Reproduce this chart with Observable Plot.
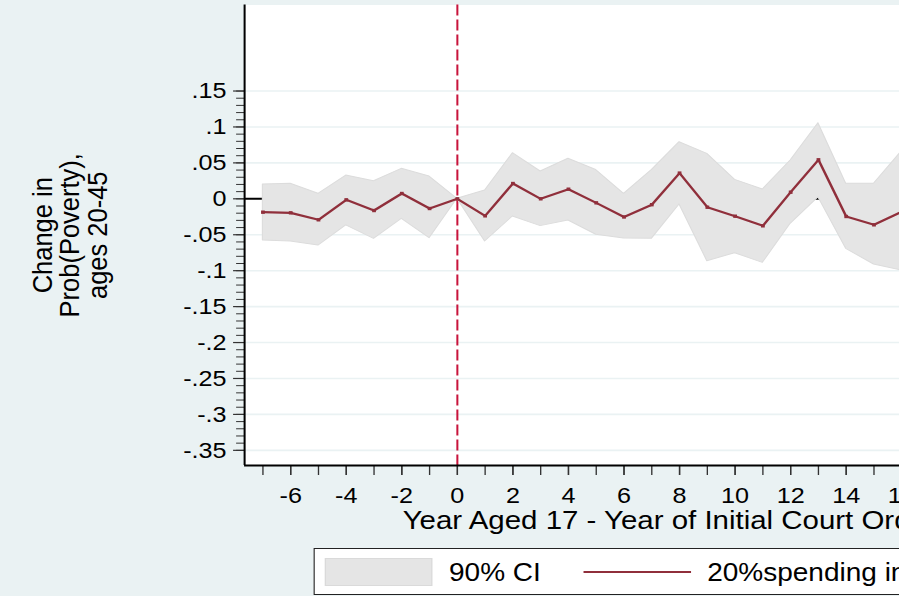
<!DOCTYPE html>
<html><head><meta charset="utf-8">
<script src="https://cdn.jsdelivr.net/npm/d3@7"></script>
<script src="https://cdn.jsdelivr.net/npm/@observablehq/plot@0.6"></script>
<style>
html,body{margin:0;padding:0;overflow:hidden;background:#eaf2f3;width:899px;height:596px;}
#wrap{position:absolute;left:0;top:0;width:977px;height:596px;transform:scaleX(1.12);transform-origin:0 0;font-family:"Liberation Sans",Arial,sans-serif;background:#eaf2f3;}
#legend{position:absolute;left:280.4px;top:548px;width:634px;height:47px;box-sizing:border-box;border:1.3px solid #222;background:#fff;}
#legend .sw{position:absolute;left:9px;top:9px;width:96px;height:28px;background:#e5e5e5;box-sizing:border-box;border:1px solid #dadada;}
#legend .ln{position:absolute;left:240px;top:22px;width:96px;height:0;border-top:2.2px solid #902f3b;}
#legend .t{position:absolute;top:23px;transform:translateY(-50%);font-size:25px;line-height:1;color:#000;white-space:nowrap;}
</style>
</head><body>
<div id="wrap"><div id="chart"></div>
<div id="legend"><div class="sw"></div><span class="t" id="l1" style="left:119.5px"></span><div class="ln"></div><span class="t" id="l2" style="left:350px"></span></div>
</div>
<script>
// Data
const years     = [-7, -6, -5, -4, -3, -2, -1, 0, 1, 2, 3, 4, 5, 6, 7, 8, 9, 10, 11, 12, 13, 14, 15, 16];
const estimate  = [-0.0186, -0.0195, -0.0292, -0.0014, -0.0163, 0.0074, -0.0135, 0, -0.0237, 0.0213, 0.0, 0.0134, -0.0056, -0.0253, -0.0082, 0.0358, -0.0117, -0.0242, -0.0376, 0.0092, 0.0543, -0.0246, -0.0362, -0.018];
const ciUpper   = [0.0199, 0.0209, 0.0070, 0.0324, 0.0245, 0.0417, 0.031, 0, 0.0116, 0.0635, 0.038, 0.0557, 0.040, 0.007, 0.040, 0.0788, 0.0626, 0.0264, 0.0129, 0.0533, 0.1052, 0.0209, 0.0209, 0.066];
const ciLower   = [-0.058, -0.0594, -0.065, -0.037, -0.0557, -0.0278, -0.0548, 0, -0.0594, -0.0246, -0.038, -0.0302, -0.050, -0.0552, -0.0557, -0.008, -0.0868, -0.0757, -0.0891, -0.0348, 0.002, -0.0696, -0.0914, -0.0996];

const yTickValues = [0.15, 0.1, 0.05, 0, -0.05, -0.1, -0.15, -0.2, -0.25, -0.3, -0.35];
const yMinorTicks = d3.range(-35, 16).map(i => i / 100);
const xTickLabels = [-6, -4, -2, 0, 2, 4, 6, 8, 10, 12, 14, 16, 18, 20, 22];
const xTickAll = d3.range(-7, 23);
const eventYear = [0];
const xDomain = [-7.66, 22.95];
const yDomain = [-0.3711, 0.2697];

const xTitle = "Year Aged 17 - Year of Initial Court Order";
const yTitleLines = ["Change in", "Prob(Poverty),", "ages 20-45"];
const legendLabels = ["90% CI", "20%spending increase"];

const data = years.map((t, i) => ({t, est: estimate[i], lo: ciLower[i], hi: ciUpper[i]}));
const fmtY = d => d === 0 ? "0" : (d < 0 ? "-" : "") + String(+Math.abs(d).toFixed(2)).replace(/^0/, "");
const fmtX = d => String(d);

const plot = Plot.plot({
  width: 977, height: 540,
  marginLeft: 217.9, marginRight: 0, marginTop: 4.5, marginBottom: 75,
  style: {background: "#eaf2f3", maxWidth: "none", overflow: "visible", fontFamily: "'Liberation Sans', Arial, sans-serif", color: "black"},
  x: {domain: xDomain, axis: null},
  y: {domain: yDomain, axis: null},
  marks: [
    Plot.frame({fill: "white", stroke: null}),
    Plot.gridY(yTickValues.filter(v => v !== 0), {stroke: "#eaf2f3", strokeOpacity: 1, strokeWidth: 1.6}),
    Plot.ruleY([0], {stroke: "black", strokeWidth: 2}),
    Plot.ruleX(eventYear, {stroke: "#c8143c", strokeWidth: 1.8, strokeDasharray: "11,4"}),
    Plot.areaY(data, {x: "t", y1: "lo", y2: "hi", fill: "#e5e5e5", stroke: "#dcdcdc", strokeWidth: 1}),
    Plot.line(data, {x: "t", y: "est", stroke: "#902f3b", strokeWidth: 2.2}),
    Plot.dot(data, {x: "t", y: "est", symbol: "square", r: 1.9, fill: "#902f3b", stroke: null}),
    Plot.axisY(yMinorTicks, {tickSize: 7.1, tickFormat: () => "", stroke: "#333", strokeWidth: 1, label: null}),
    Plot.axisY(yTickValues, {tickSize: 9.8, tickPadding: 6.3, tickFormat: fmtY, fontSize: 22.5, stroke: "#333", strokeWidth: 1.2, label: null}),
    Plot.axisX(xTickAll, {tickSize: 10, tickFormat: () => "", stroke: "#333", strokeWidth: 1.2, label: null}),
    Plot.axisX(xTickLabels, {tickSize: 10, tickPadding: 12, tickFormat: fmtX, fontSize: 22.5, stroke: "#333", strokeWidth: 1.2, label: null}),
    Plot.ruleX([xDomain[0]], {stroke: "black", strokeWidth: 1.8}),
    Plot.ruleY([yDomain[0]], {stroke: "black", strokeWidth: 2}),
    Plot.text([xTitle], {text: d => d, frameAnchor: "bottom", dy: 45, textAnchor: "middle", lineAnchor: "top", fontSize: 26.3, fill: "black"}),
    Plot.text([yTitleLines.join("\n")], {text: d => d, frameAnchor: "left", dx: -155.4, rotate: -90, textAnchor: "middle", lineAnchor: "middle", lineHeight: 0.97, fontSize: 25.5, fill: "black"})
  ]
});
document.getElementById("chart").appendChild(plot);
document.getElementById("l1").textContent = legendLabels[0];
document.getElementById("l2").textContent = legendLabels[1];
</script>
</body></html>
